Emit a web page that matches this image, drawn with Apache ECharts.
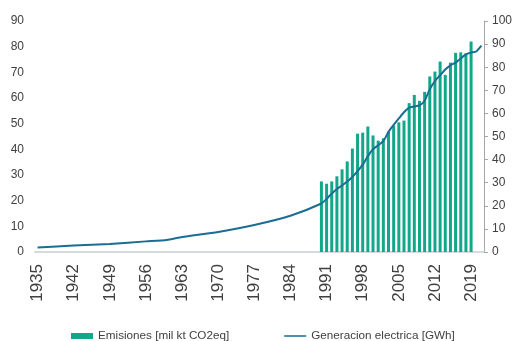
<!DOCTYPE html>
<html>
<head>
<meta charset="utf-8">
<title>Emisiones y generación eléctrica</title>
<script src="https://cdn.jsdelivr.net/npm/echarts@6/dist/echarts.min.js"></script>
<style>
  html, body { margin: 0; padding: 0; background: #ffffff; }
  #chart { width: 515px; height: 341px; }
</style>
</head>
<body>
<div id="chart"></div>
<script>
// Category axis: one slot per year
const firstYear = 1935;
const lastYear = 2021;
const years = [];
for (let y = firstYear; y <= lastYear; y++) years.push(String(y));

// Emisiones [mil kt CO2eq], 1990–2019
const emisionesYears = [
  1990, 1991, 1992, 1993, 1994, 1995, 1996, 1997, 1998, 1999,
  2000, 2001, 2002, 2003, 2004, 2005, 2006, 2007, 2008, 2009,
  2010, 2011, 2012, 2013, 2014, 2015, 2016, 2017, 2018, 2019
];
const emisiones = [
  27.5, 26.6, 27.5, 29.5, 32.2, 35.3, 40.3, 46.1, 46.5, 48.9,
  45.4, 43.4, 44.3, 46.9, 49.2, 50.5, 51.2, 58.0, 61.2, 58.9,
  62.4, 68.4, 70.3, 74.2, 69.0, 73.8, 77.6, 77.8, 77.4, 82.0
];

// Generacion electrica [GWh]
const generacionYears = [
  1935, 1942, 1949, 1956, 1960, 1963, 1970, 1977, 1984, 1990,
  1991, 1992, 1993, 1994, 1995, 1996, 1997, 1998, 1999, 2000,
  2001, 2002, 2003, 2004, 2005, 2006, 2007, 2008, 2009, 2010,
  2011, 2012, 2013, 2014, 2015, 2016, 2017, 2018, 2019, 2020,
  2021
];
const generacion = [
  2.0, 2.8, 3.5, 4.6, 5.2, 6.5, 8.7, 11.7, 15.7, 21.0,
  23.0, 25.3, 27.3, 28.8, 30.5, 32.5, 35.0, 37.8, 41.5, 44.5,
  46.2, 48.0, 52.0, 55.0, 57.8, 60.5, 62.5, 63.0, 63.5, 65.5,
  70.5, 74.0, 76.5, 79.0, 80.8, 82.0, 83.8, 85.6, 86.3, 86.8,
  89.3
];

// Axis tick values
const leftTicks = { min: 0, max: 90, step: 10 };
const rightTicks = { min: 0, max: 100, step: 10 };

const fontFamily = '"Liberation Sans", Arial, sans-serif';
const textColor = '#404040';
const barColor = '#13a78a';
const lineColor = '#1a6d93';

// Legend glyph for the line series: a thin horizontal stroke centred in the icon box
const lineIcon = 'path://M0,0L0.01,0M0,2.3L22,2.3L22,3.7L0,3.7ZM0,6L0.01,6';

const chart = echarts.init(document.getElementById('chart'), null, { renderer: 'canvas' });

chart.setOption({
  animation: false,
  backgroundColor: '#ffffff',
  textStyle: { fontFamily: fontFamily },
  grid: { left: 35, right: 30, top: 21, bottom: 89, containLabel: false },
  legend: {
    left: 71,
    top: 330,
    padding: 0,
    itemGap: 55,
    itemWidth: 22,
    itemHeight: 6,
    textStyle: { fontSize: 11.7, color: textColor, fontFamily: fontFamily },
    data: [
      { name: 'Emisiones [mil kt CO2eq]', icon: 'rect' },
      { name: 'Generacion electrica [GWh]', icon: lineIcon }
    ]
  },
  xAxis: {
    type: 'category',
    data: years,
    boundaryGap: true,
    axisLine: { show: true, lineStyle: { color: '#d3dae0', width: 2 } },
    axisTick: { show: false },
    axisLabel: {
      interval: 6,
      rotate: 90,
      fontSize: 17,
      color: textColor,
      margin: 12,
      fontFamily: fontFamily
    },
    splitLine: { show: false }
  },
  yAxis: [
    {
      type: 'value',
      position: 'left',
      min: leftTicks.min,
      max: leftTicks.max,
      interval: leftTicks.step,
      axisLine: { show: false },
      axisTick: { show: false },
      splitLine: { show: false },
      axisLabel: { fontSize: 12, color: textColor, margin: 11, fontFamily: fontFamily }
    },
    {
      type: 'value',
      position: 'right',
      min: rightTicks.min,
      max: rightTicks.max,
      interval: rightTicks.step,
      axisLine: { show: true, lineStyle: { color: '#a6a6a6', width: 1 } },
      axisTick: { show: true, length: 4, inside: false, lineStyle: { color: '#a6a6a6' } },
      splitLine: { show: false },
      axisLabel: { fontSize: 12, color: textColor, margin: 8, fontFamily: fontFamily }
    }
  ],
  series: [
    {
      name: 'Emisiones [mil kt CO2eq]',
      type: 'bar',
      yAxisIndex: 0,
      barWidth: 3,
      itemStyle: { color: barColor },
      data: emisionesYears.map((y, i) => [String(y), emisiones[i]])
    },
    {
      name: 'Generacion electrica [GWh]',
      type: 'line',
      yAxisIndex: 1,
      symbol: 'none',
      showSymbol: false,
      smooth: 0.2,
      lineStyle: { color: lineColor, width: 2 },
      itemStyle: { color: lineColor },
      data: generacionYears.map((y, i) => [String(y), generacion[i]])
    }
  ]
});
</script>
</body>
</html>
